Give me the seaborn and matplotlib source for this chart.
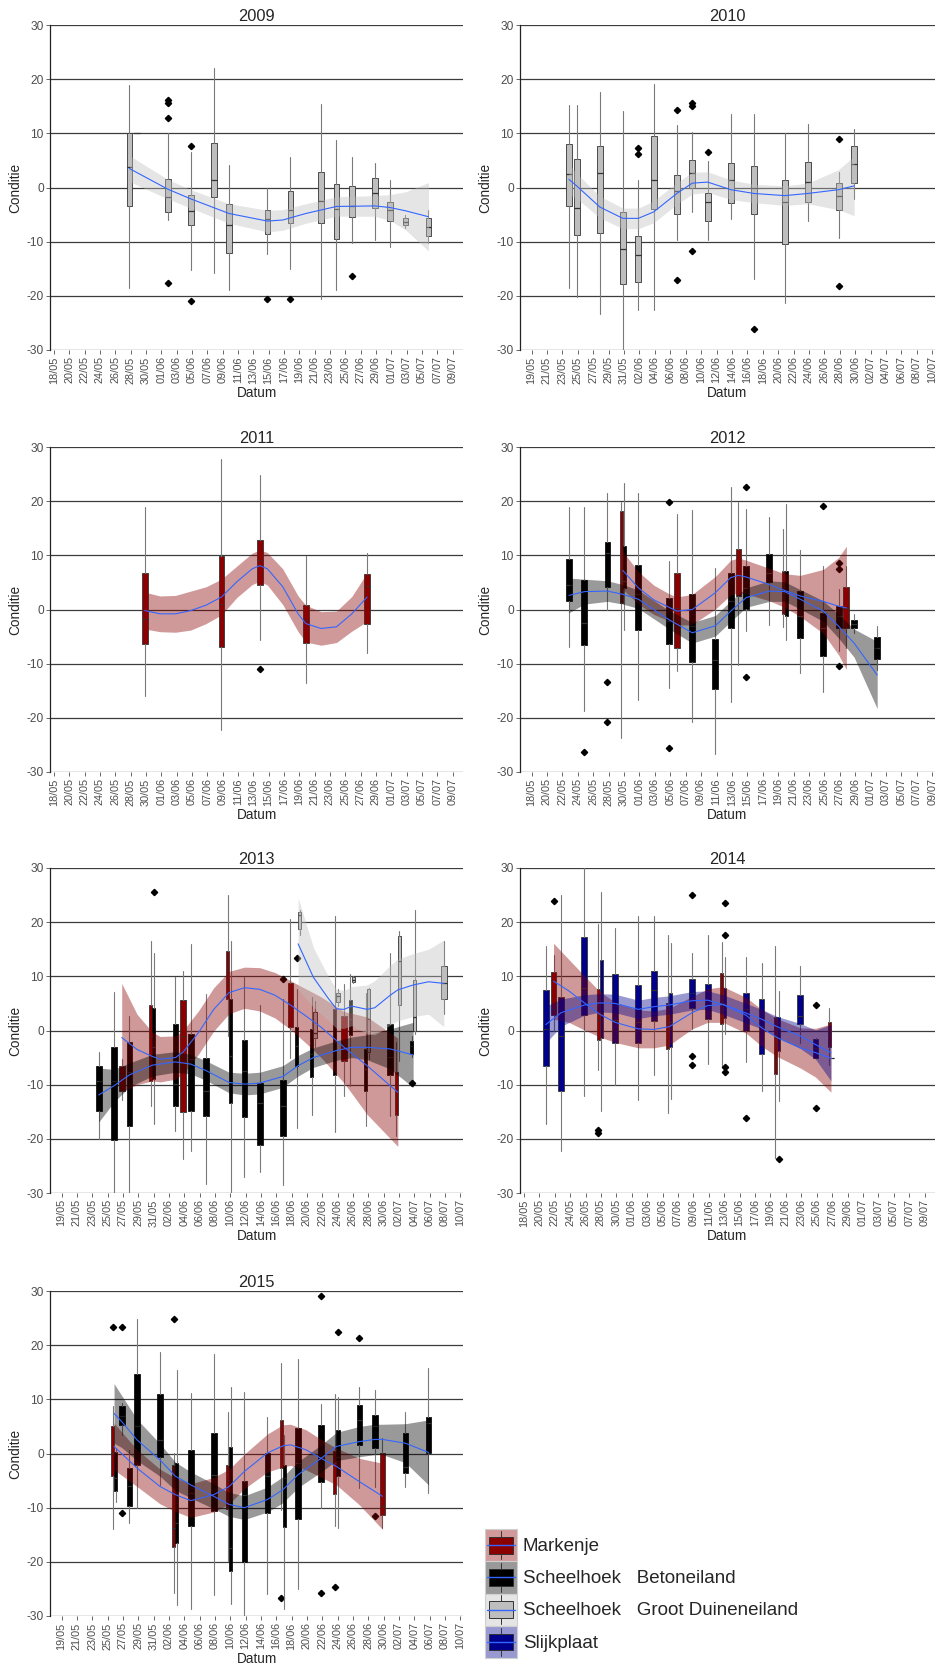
import datetime as dt
import matplotlib
matplotlib.use("Agg")
import matplotlib.pyplot as plt
import matplotlib.dates as mdates
from matplotlib.colors import to_rgb
from matplotlib.patches import Rectangle, Patch
from matplotlib.lines import Line2D
from matplotlib.legend_handler import HandlerBase
import numpy as np
import pandas as pd
import seaborn as sns

# ---------------------------------------------------------------- data
# colony codes
colony_codes = ["M", "B", "G", "S"]
colony_labels = ["Markenje", "Scheelhoek   Betoneiland",
                 "Scheelhoek   Groot Duineneiland", "Slijkplaat"]
colony_fill = ["#8B0000", "#000000", "#BEBEBE", "#00008B"]

years = [2009, 2010, 2011, 2012, 2013, 2014, 2015]
first_tick = ["18/05", "19/05", "18/05", "18/05", "19/05", "18/05", "19/05"]

# boxes: (date, colony, lower whisker, q1, median, q3, upper whisker, outliers)
box_2009 = [
    ("28/05", "G", -18.6, -3.5, 3.7, 10.0, 18.9, []),
    ("29/05", "G", 10.1, 10.1, 10.1, 10.1, 10.1, []),
    ("02/06", "G", -6.0, -4.6, -1.8, 1.6, 10.1, [16.2, 15.6, 12.9, -17.7]),
    ("05/06", "G", -15.2, -7.0, -4.3, -1.3, 6.6, [7.7, -21.0]),
    ("08/06", "G", -15.7, -1.7, 1.4, 8.2, 22.0, []),
    ("10/06", "G", -18.9, -12.0, -6.9, -3.1, 4.2, []),
    ("15/06", "G", -12.3, -8.6, -5.8, -4.2, 0.0, [-20.5]),
    ("18/06", "G", -15.1, -6.6, -4.2, -0.6, 5.7, [-20.5]),
    ("22/06", "G", -20.5, -6.5, -2.5, 2.8, 15.4, []),
    ("24/06", "G", -19.0, -9.5, -4.0, 0.6, 8.8, []),
    ("26/06", "G", -10.3, -5.5, -3.4, 0.2, 5.6, [-16.3]),
    ("29/06", "G", -9.6, -3.8, -1.0, 1.8, 4.5, []),
    ("01/07", "G", -10.9, -6.1, -4.2, -2.6, 1.4, []),
    ("03/07", "G", -7.5, -7.0, -6.3, -5.7, -5.1, []),
    ("06/07", "G", -10.3, -8.9, -7.2, -5.7, -4.2, []),
]
box_2010 = [
    ("24/05", "G", -18.6, -3.5, 2.5, 8.1, 15.3, []),
    ("25/05", "G", -20.2, -8.7, -3.8, 5.2, 15.3, []),
    ("28/05", "G", -23.4, -8.4, 2.7, 7.6, 17.7, []),
    ("31/05", "G", -30.0, -17.9, -11.3, -4.6, 14.2, []),
    ("02/06", "G", -22.6, -17.5, -12.5, -9.0, 1.3, [7.3, 6.2]),
    ("04/06", "G", -22.6, -3.9, 1.3, 9.6, 19.1, []),
    ("07/06", "G", -9.6, -4.8, -0.7, 2.4, 11.6, [14.3, -17.1]),
    ("09/06", "G", -4.5, -0.1, 2.7, 5.1, 10.2, [15.6, 15.0, -11.7]),
    ("11/06", "G", -9.6, -6.1, -2.7, -1.1, 4.9, [6.5]),
    ("14/06", "G", -5.8, -2.8, 1.3, 4.6, 13.6, []),
    ("17/06", "G", -16.8, -4.8, -0.1, 3.9, 13.6, [-26.2]),
    ("21/06", "G", -21.4, -10.5, -2.7, 1.4, 10.1, []),
    ("24/06", "G", -6.2, -2.6, 1.0, 4.7, 11.8, []),
    ("28/06", "G", -9.3, -4.2, -1.5, 0.8, 2.9, [8.9, -18.2]),
    ("30/06", "G", -2.2, 0.9, 4.3, 7.6, 10.8, []),
]
box_2011 = [
    ("30/05", "M", -16.0, -6.3, -1.8, 6.7, 19.0, []),
    ("09/06", "M", -22.3, -6.9, 1.0, 9.8, 27.8, []),
    ("14/06", "M", -5.7, 4.5, 9.1, 12.9, 24.8, [-10.9]),
    ("20/06", "M", -13.6, -6.2, -2.0, 0.8, 9.8, []),
    ("28/06", "M", -8.0, -2.6, 4.3, 6.5, 10.4, []),
]
box_2012 = [
    ("23/05", "B", -7.0, 1.5, 4.6, 9.3, 19.0, []),
    ("25/05", "B", -18.7, -6.5, -2.4, 5.4, 19.0, [-26.3]),
    ("28/05", "B", 0.0, 4.2, 10.4, 12.5, 21.5, [-13.4, -20.7]),
    ("30/05", "M", -23.8, 1.2, 5.3, 18.2, 19.8, []),
    ("30/05", "B", -3.7, 4.0, 5.3, 11.8, 23.4, []),
    ("01/06", "B", -16.7, -3.7, 2.8, 8.3, 21.5, []),
    ("05/06", "B", -14.5, -6.4, -2.2, 2.2, 8.9, [19.9, -25.5]),
    ("06/06", "M", -11.4, -7.1, 0.3, 6.8, 17.6, []),
    ("08/06", "B", -20.7, -9.6, -3.1, 2.8, 18.3, []),
    ("11/06", "B", -26.6, -14.7, -9.3, -5.4, 7.7, []),
    ("13/06", "B", -17.0, -3.5, 1.5, 6.8, 22.6, []),
    ("14/06", "M", -10.2, 2.5, 5.9, 11.1, 19.8, []),
    ("15/06", "B", -4.0, 0.1, 4.0, 8.1, 18.6, [22.7, -12.5]),
    ("18/06", "B", -2.8, 5.0, 6.8, 10.3, 17.0, []),
    ("20/06", "M", -3.3, -0.8, 3.4, 7.1, 14.8, []),
    ("20/06", "B", -5.6, -1.2, 2.8, 7.2, 19.4, []),
    ("22/06", "B", -11.7, -5.3, -1.2, 3.5, 11.0, []),
    ("25/06", "B", -15.3, -8.5, -3.4, -0.6, 8.0, [19.1]),
    ("27/06", "B", -7.6, -3.5, -1.2, 0.7, 3.8, [8.5, 7.4, -10.4]),
    ("28/06", "M", -7.1, -3.4, 0.3, 4.1, 8.0, []),
    ("29/06", "B", -4.3, -3.5, -2.7, -1.9, -0.9, []),
    ("02/07", "B", -11.1, -9.1, -7.1, -5.1, -3.1, []),
]
box_2013 = [
    ("24/05", "B", -20.1, -14.8, -9.3, -6.6, -3.9, []),
    ("26/05", "B", -30.0, -20.3, -9.3, -3.1, 7.2, []),
    ("27/05", "M", -12.9, -11.1, -8.3, -6.6, -5.2, []),
    ("28/05", "B", -30.0, -17.7, -7.7, -2.1, 2.6, []),
    ("31/05", "M", -14.0, -9.3, -1.0, 4.7, 16.5, []),
    ("31/05", "B", -17.2, -9.0, -3.1, 4.2, 14.4, [25.6]),
    ("03/06", "B", -18.5, -14.0, -9.9, 1.2, 9.8, []),
    ("04/06", "M", -23.7, -15.0, -1.0, 5.6, 11.0, []),
    ("05/06", "B", -22.3, -14.8, -5.3, -0.6, 15.9, []),
    ("07/06", "B", -28.3, -15.8, -11.1, -5.0, 6.7, []),
    ("10/06", "M", -1.0, 5.8, 8.8, 14.7, 25.1, []),
    ("10/06", "B", -30.0, -13.3, -4.7, 5.8, 16.5, []),
    ("12/06", "B", -27.1, -16.0, -7.4, -1.7, 9.8, []),
    ("14/06", "B", -26.1, -21.2, -13.3, -9.6, 4.8, []),
    ("17/06", "B", -28.6, -19.5, -13.9, -9.1, 5.8, [9.5]),
    ("18/06", "M", -5.0, 0.7, 5.2, 8.8, 20.5, []),
    ("19/06", "B", -18.0, -6.6, -2.8, 0.7, 7.7, [13.4]),
    ("19/06", "G", 17.7, 18.7, 21.4, 21.8, 22.3, []),
    ("21/06", "B", -15.6, -8.5, -4.4, 0.2, 6.1, []),
    ("21/06", "G", -3.0, -1.3, -0.5, 3.4, 5.5, []),
    ("24/06", "B", -18.8, -8.2, -2.2, 3.9, 21.1, []),
    ("24/06", "G", 4.5, 5.3, 6.3, 6.9, 7.7, []),
    ("25/06", "M", -12.0, -5.6, -2.5, 2.7, 8.5, []),
    ("26/06", "B", -10.2, -0.8, 2.1, 5.6, 10.4, []),
    ("26/06", "G", 8.7, 9.0, 9.4, 9.8, 10.1, []),
    ("28/06", "B", -17.7, -11.1, -7.1, -3.4, 7.0, []),
    ("28/06", "G", -5.3, -4.0, 2.1, 7.6, 7.9, []),
    ("01/07", "B", -15.7, -8.3, -4.9, 1.2, 14.4, []),
    ("02/07", "M", -19.4, -15.6, -12.0, -7.6, -2.2, []),
    ("02/07", "G", -5.6, 4.8, 12.8, 17.4, 18.3, []),
    ("04/07", "B", -4.8, -4.4, -2.8, -2.0, -1.0, [-9.6]),
    ("04/07", "G", -0.7, -0.1, 2.5, 9.3, 22.3, []),
    ("08/07", "G", 3.0, 5.8, 8.7, 11.9, 16.5, []),
]
box_2014 = [
    ("21/05", "S", -17.2, -6.6, 0.2, 7.4, 15.6, []),
    ("22/05", "M", 0.0, 2.8, 4.0, 10.8, 14.0, [24.0]),
    ("23/05", "S", -22.3, -11.1, -1.0, 6.1, 25.0, []),
    ("26/05", "S", -12.1, 2.9, 7.8, 17.2, 30.0, []),
    ("28/05", "M", -7.2, -1.8, 2.0, 7.7, 19.6, [-18.4, -19.0]),
    ("28/05", "S", -14.9, -1.4, 5.1, 13.0, 25.6, []),
    ("30/05", "S", -10.0, -2.3, 2.0, 10.5, 19.0, []),
    ("02/06", "S", -12.9, -2.3, 1.6, 8.4, 21.2, []),
    ("04/06", "S", -8.3, 1.8, 7.5, 11.0, 21.2, []),
    ("06/06", "M", -15.2, -3.5, 1.4, 5.1, 17.7, []),
    ("06/06", "S", -12.7, -3.1, 1.5, 7.0, 16.1, []),
    ("09/06", "S", 0.2, 4.1, 7.0, 9.6, 14.4, [25.1, -4.7, -6.3]),
    ("11/06", "S", -6.2, 2.2, 5.7, 8.6, 17.7, []),
    ("13/06", "M", -6.6, 1.2, 5.1, 10.7, 16.4, []),
    ("13/06", "S", -0.7, 2.3, 5.1, 7.8, 13.5, [23.6, 17.7, -6.7, -7.7]),
    ("16/06", "S", -5.8, -0.1, 3.9, 6.9, 13.5, [-16.1]),
    ("18/06", "S", -11.2, -4.4, 0.8, 5.9, 12.5, []),
    ("20/06", "M", -23.5, -8.1, -1.0, 2.5, 15.6, []),
    ("20/06", "S", -13.0, -3.8, 0.2, 2.5, 7.3, [-23.8]),
    ("23/06", "S", -2.3, 1.2, 2.6, 6.5, 12.0, []),
    ("25/06", "S", -5.0, -5.0, -3.2, -1.5, -1.3, [4.7, -14.3]),
    ("27/06", "M", -6.3, -3.0, -0.4, 1.6, 4.2, []),
    ("27/06", "S", -5.0, -5.0, -5.0, -5.0, -5.0, []),
]
box_2015 = [
    ("26/05", "M", -14.0, -4.1, 0.1, 5.0, 8.7, [23.3]),
    ("26/05", "B", -9.0, -6.9, -4.5, 0.3, 1.0, []),
    ("27/05", "B", 3.5, 5.2, 6.9, 8.7, 9.3, [23.3, -11.0]),
    ("28/05", "B", -12.9, -9.6, -6.0, -2.7, 0.7, []),
    ("29/05", "B", -10.1, -2.1, 5.0, 14.7, 24.9, []),
    ("01/06", "B", -5.9, -0.6, 2.5, 11.0, 18.8, []),
    ("03/06", "M", -25.7, -17.2, -13.7, -2.2, 0.1, [24.9]),
    ("03/06", "B", -27.9, -16.6, -12.8, -1.8, 15.4, []),
    ("05/06", "B", -28.7, -13.4, -7.3, 0.7, 11.1, []),
    ("08/06", "B", -26.2, -10.7, -3.9, 3.7, 18.3, []),
    ("10/06", "M", -19.9, -10.2, -4.8, -2.1, 7.7, []),
    ("10/06", "B", -27.7, -21.7, -17.5, 1.2, 12.3, []),
    ("12/06", "B", -30.0, -20.0, -7.6, -5.0, 11.4, []),
    ("15/06", "B", -26.0, -11.0, -4.2, 0.1, 6.8, []),
    ("17/06", "M", -10.4, -2.7, 2.5, 6.1, 16.8, [-26.6]),
    ("17/06", "B", -28.7, -13.6, -4.5, -2.1, 3.4, []),
    ("19/06", "B", -25.0, -12.0, -1.8, 4.7, 17.4, []),
    ("22/06", "B", -10.1, -5.3, -0.6, 5.2, 9.1, [29.1, -25.7]),
    ("24/06", "M", -13.3, -7.5, -1.8, 0.4, 10.9, [-24.6]),
    ("24/06", "B", -13.7, -4.2, -0.6, 4.4, 10.5, [22.5]),
    ("27/06", "B", -6.4, 1.5, 6.1, 9.0, 12.3, [21.3]),
    ("29/06", "B", -6.2, 1.0, 5.0, 7.1, 11.7, [-11.6]),
    ("30/06", "M", -13.7, -11.3, -9.6, 0.1, 2.8, []),
    ("03/07", "B", -6.2, -3.6, -2.4, 3.7, 7.7, []),
    ("06/07", "B", -7.3, 0.1, 5.7, 6.8, 15.7, []),
]

# smoothed trend per colony: dates, fitted value, half width of the band
sm2009_G_date = ["28/05", "02/06", "05/06", "10/06", "15/06", "17/06", "20/06", "24/06", "29/06", "01/07", "03/07", "06/07"]
sm2009_G_fit = [3.5, -0.3, -2.1, -4.8, -6.2, -6.0, -4.8, -3.5, -3.4, -3.7, -4.3, -5.4]
sm2009_G_hw = [2.4, 1.8, 1.7, 1.8, 2.0, 1.9, 1.8, 1.8, 1.9, 2.4, 3.5, 6.3]

sm2010_G_date = ["24/05", "25/05", "28/05", "31/05", "02/06", "04/06", "07/06", "09/06", "11/06", "14/06", "17/06", "21/06", "24/06", "28/06", "30/06"]
sm2010_G_fit = [1.5, 0.3, -3.6, -5.7, -5.7, -4.5, -1.1, 0.8, 1.0, -0.4, -1.1, -1.5, -1.1, -0.4, 0.3]
sm2010_G_hw = [2.8, 2.3, 2.0, 1.9, 1.9, 2.0, 2.0, 2.0, 1.9, 1.8, 1.7, 1.8, 1.9, 3.7, 5.5]

sm2011_M_date = ["30/05", "01/06", "03/06", "05/06", "07/06", "09/06", "11/06", "13/06", "14/06", "15/06", "17/06", "19/06", "20/06", "22/06", "24/06", "26/06", "28/06"]
sm2011_M_fit = [-0.2, -0.8, -0.8, -0.2, 0.8, 2.3, 5.1, 7.5, 8.1, 7.5, 4.2, -0.8, -2.6, -3.5, -3.2, -0.8, 2.3]
sm2011_M_hw = [3.4, 3.3, 3.4, 3.6, 3.4, 3.3, 2.9, 2.9, 2.9, 3.0, 3.3, 3.3, 3.4, 3.1, 2.9, 3.2, 4.5]

sm2012_B_date = ["23/05", "25/05", "28/05", "30/05", "01/06", "05/06", "08/06", "11/06", "13/06", "15/06", "18/06", "20/06", "22/06", "25/06", "27/06", "29/06", "02/07"]
sm2012_B_fit = [2.6, 3.3, 3.4, 2.8, 1.9, -1.9, -4.3, -3.0, -0.3, 2.2, 3.4, 3.3, 1.9, -0.3, -3.1, -6.2, -12.1]
sm2012_B_hw = [3.2, 2.3, 1.9, 1.8, 1.7, 1.7, 1.9, 1.9, 1.9, 1.8, 1.9, 1.8, 1.8, 1.9, 2.2, 2.6, 6.2]
sm2012_M_date = ["30/05", "01/06", "03/06", "05/06", "06/06", "08/06", "11/06", "13/06", "14/06", "15/06", "18/06", "20/06", "22/06", "25/06", "27/06", "28/06"]
sm2012_M_fit = [7.2, 4.0, 1.8, 0.4, -0.3, 0.0, 3.1, 5.9, 6.3, 6.0, 4.6, 3.5, 2.5, 1.5, 0.6, 0.3]
sm2012_M_hw = [3.5, 3.0, 2.7, 2.5, 2.6, 2.8, 3.0, 3.2, 3.2, 3.1, 3.0, 3.1, 3.8, 5.9, 9.0, 11.4]

sm2013_B_date = ["24/05", "26/05", "28/05", "31/05", "03/06", "05/06", "07/06", "10/06", "12/06", "14/06", "17/06", "19/06", "21/06", "24/06", "26/06", "28/06", "01/07", "04/07"]
sm2013_B_fit = [-11.9, -10.2, -8.2, -6.4, -5.8, -6.2, -7.4, -9.6, -9.9, -9.7, -8.5, -6.5, -5.0, -3.7, -3.1, -3.1, -3.4, -4.5]
sm2013_B_hw = [5.0, 3.0, 2.2, 2.0, 1.9, 1.8, 1.8, 1.9, 2.0, 2.0, 2.0, 1.9, 1.8, 1.8, 1.9, 2.3, 3.7, 6.0]
sm2013_M_date = ["27/05", "29/05", "31/05", "01/06", "03/06", "04/06", "06/06", "08/06", "10/06", "12/06", "14/06", "16/06", "18/06", "20/06", "22/06", "25/06", "28/06", "02/07"]
sm2013_M_fit = [-1.3, -3.5, -4.8, -5.3, -5.0, -4.0, -0.4, 3.9, 7.0, 7.9, 7.6, 6.5, 4.7, 2.7, 0.6, -3.1, -6.5, -11.4]
sm2013_M_hw = [10.0, 6.5, 4.5, 4.2, 4.0, 4.0, 4.0, 4.0, 3.9, 3.8, 4.0, 4.2, 4.5, 5.0, 5.6, 6.6, 9.0, 10.0]
sm2013_G_date = ["19/06", "21/06", "23/06", "24/06", "25/06", "26/06", "28/06", "29/06", "01/07", "02/07", "04/07", "06/07", "08/07"]
sm2013_G_fit = [16.0, 9.8, 5.8, 4.0, 3.9, 4.5, 3.9, 4.2, 6.5, 7.5, 8.4, 9.0, 8.7]
sm2013_G_hw = [8.5, 5.5, 4.0, 3.6, 3.5, 3.6, 4.5, 5.0, 5.5, 5.7, 5.8, 6.0, 8.0]

sm2014_M_date = ["22/05", "24/05", "26/05", "28/05", "30/05", "02/06", "04/06", "06/06", "09/06", "11/06", "13/06", "16/06", "18/06", "20/06", "23/06", "25/06", "27/06"]
sm2014_M_fit = [9.1, 7.3, 5.1, 3.0, 1.5, 0.3, 0.2, 0.7, 3.3, 4.6, 4.8, 2.8, 0.5, -1.3, -3.2, -4.1, -5.1]
sm2014_M_hw = [7.0, 5.8, 5.0, 4.2, 3.7, 3.5, 3.4, 3.4, 3.0, 3.1, 3.3, 3.3, 3.4, 3.5, 3.7, 4.5, 6.3]
sm2014_S_date = ["21/05", "23/05", "26/05", "28/05", "30/05", "02/06", "04/06", "06/06", "09/06", "11/06", "13/06", "16/06", "18/06", "20/06", "23/06", "25/06", "27/06"]
sm2014_S_fit = [1.1, 3.3, 4.7, 5.1, 5.0, 3.9, 4.4, 4.7, 5.5, 5.6, 4.8, 3.2, 2.1, 0.7, -1.0, -2.6, -4.1]
sm2014_S_hw = [3.4, 2.5, 1.9, 1.7, 1.7, 1.7, 1.7, 1.7, 1.7, 1.7, 1.8, 1.8, 1.8, 1.9, 2.3, 2.7, 5.2]

sm2015_B_date = ["26/05", "27/05", "29/05", "01/06", "03/06", "05/06", "08/06", "10/06", "12/06", "15/06", "17/06", "19/06", "22/06", "24/06", "27/06", "29/06", "30/06", "03/07", "06/07"]
sm2015_B_fit = [7.4, 5.9, 2.5, -1.2, -4.2, -5.8, -7.9, -9.4, -10.0, -8.5, -6.7, -3.9, -0.9, 1.3, 2.2, 2.6, 2.6, 1.9, 0.2]
sm2015_B_hw = [5.5, 4.8, 3.8, 3.0, 2.6, 2.4, 2.3, 2.2, 2.2, 2.3, 2.4, 2.4, 2.5, 2.6, 2.8, 2.8, 2.8, 3.6, 6.0]
sm2015_M_date = ["26/05", "29/05", "01/06", "03/06", "05/06", "08/06", "10/06", "12/06", "15/06", "17/06", "18/06", "20/06", "22/06", "24/06", "27/06", "30/06"]
sm2015_M_fit = [1.3, -2.7, -6.1, -7.6, -8.7, -7.6, -6.1, -3.3, 0.1, 1.4, 1.6, 0.7, -0.9, -2.4, -5.2, -7.9]
sm2015_M_hw = [4.3, 3.4, 3.2, 3.1, 3.1, 3.2, 3.2, 3.2, 3.5, 3.9, 3.8, 3.7, 3.5, 3.4, 4.3, 6.1]

BOXES = {2009: box_2009, 2010: box_2010, 2011: box_2011, 2012: box_2012,
         2013: box_2013, 2014: box_2014, 2015: box_2015}
SMOOTHS = {
    2009: {"G": (sm2009_G_date, sm2009_G_fit, sm2009_G_hw)},
    2010: {"G": (sm2010_G_date, sm2010_G_fit, sm2010_G_hw)},
    2011: {"M": (sm2011_M_date, sm2011_M_fit, sm2011_M_hw)},
    2012: {"M": (sm2012_M_date, sm2012_M_fit, sm2012_M_hw),
           "B": (sm2012_B_date, sm2012_B_fit, sm2012_B_hw)},
    2013: {"M": (sm2013_M_date, sm2013_M_fit, sm2013_M_hw),
           "B": (sm2013_B_date, sm2013_B_fit, sm2013_B_hw),
           "G": (sm2013_G_date, sm2013_G_fit, sm2013_G_hw)},
    2014: {"M": (sm2014_M_date, sm2014_M_fit, sm2014_M_hw),
           "S": (sm2014_S_date, sm2014_S_fit, sm2014_S_hw)},
    2015: {"M": (sm2015_M_date, sm2015_M_fit, sm2015_M_hw),
           "B": (sm2015_B_date, sm2015_B_fit, sm2015_B_hw)},
}

# ---------------------------------------------------------------- style
sns.set_theme(style="white")
plt.rcParams["font.family"] = ["Liberation Sans", "DejaVu Sans"]
plt.rcParams["axes.unicode_minus"] = False

FILL = dict(zip(colony_codes, colony_fill))
ALPHA = 0.4
LINE_BLUE = "#3366FF"
TICK_GREY = "#4D4D4D"
GRID = "#3C3C3C"
DAY_SHIFT = -0.15
START_OFFSET = {2009: 0.5, 2010: 1.5, 2011: 0.5, 2012: 1.5, 2013: 1.5, 2014: 0.5, 2015: 1.5}
SPAN = 53.85


def blend(c, a=ALPHA):
    r = np.array(to_rgb(c))
    return tuple(a * r + (1 - a) * 1.0)


def dnum(year, s):
    d, m = s.split("/")
    return mdates.date2num(dt.datetime(year, int(m), int(d)))


def draw_panel(ax, year, tick0):
    t0 = dnum(year, tick0)
    x0 = t0 - START_OFFSET[year]
    ax.set_xlim(x0, x0 + SPAN)
    ax.set_ylim(-30, 30)
    ax.set_yticks(range(-30, 31, 10))
    ax.set_xticks([t0 + 2 * i for i in range(27)])
    ax.xaxis.set_major_formatter(mdates.DateFormatter("%d/%m"))
    ax.yaxis.grid(True, color=GRID, lw=0.9)
    ax.xaxis.grid(False)
    ax.set_axisbelow(True)
    for s in ["top", "right", "bottom"]:
        ax.spines[s].set_visible(False)
    ax.spines["left"].set_color("#222222")
    ax.spines["left"].set_linewidth(0.9)
    ax.tick_params(axis="x", rotation=90, labelsize=7.8, labelcolor=TICK_GREY,
                   color="#666666", length=3, width=0.7, bottom=True, pad=1.5)
    ax.tick_params(axis="y", labelsize=8.6, labelcolor=TICK_GREY,
                   color="#666666", length=3, width=0.7, left=True, pad=1.5)
    ax.set_title(str(year), fontsize=11.8, pad=3)
    ax.set_ylabel("Conditie", fontsize=9.8, labelpad=3)
    ax.set_xlabel("Datum", fontsize=9.8, labelpad=2)

    # --- boxes
    df = pd.DataFrame(BOXES[year], columns=["date", "col", "wl", "q1", "med", "q3", "wh", "fl"])
    df["x"] = [dnum(year, d) + DAY_SHIFT for d in df["date"]]
    df["order"] = [colony_codes.index(c) for c in df["col"]]
    df = df.sort_values(["x", "order"]).reset_index(drop=True)
    n_at = df.groupby("x")["col"].transform("count")
    rank = df.groupby("x").cumcount()
    width = np.where(n_at > 1, 0.8 / n_at, 0.75)
    pos = df["x"] + np.where(n_at > 1, (rank - (n_at - 1) / 2) * (0.8 / n_at), 0.0)
    stats = [dict(whislo=r.wl, q1=r.q1, med=r.med, q3=r.q3, whishi=r.wh, fliers=r.fl)
             for r in df.itertuples()]
    art = ax.bxp(stats, positions=list(pos), widths=list(width), patch_artist=True,
                 showcaps=False, manage_ticks=False,
                 boxprops=dict(edgecolor="#333333", linewidth=0.6),
                 whiskerprops=dict(color="#7A7A7A", linewidth=0.8),
                 medianprops=dict(color="#333333", linewidth=0.9),
                 flierprops=dict(marker="D", markersize=3.2, markerfacecolor="black",
                                 markeredgecolor="black", linestyle="none"))
    for patch, c in zip(art["boxes"], df["col"]):
        patch.set_facecolor(FILL[c])
        if c == "B":
            patch.set_edgecolor("#111111")

    # --- smooth trends with confidence bands
    for c in colony_codes:
        if c not in SMOOTHS[year]:
            continue
        dates, fit, hw = SMOOTHS[year][c]
        xs = np.array([dnum(year, d) + DAY_SHIFT for d in dates])
        fit = np.array(fit)
        hw = np.array(hw)
        ax.fill_between(xs, fit - hw, fit + hw, color=FILL[c], alpha=ALPHA, lw=0, zorder=3)
        sns.lineplot(x=xs, y=fit, ax=ax, color=LINE_BLUE, lw=0.8, zorder=4,
                     estimator=None, sort=False)


fig = plt.figure(figsize=(9.4, 16.72), dpi=100)
W, H = 940.0, 1672.0
col_left = [50, 520]
col_width = [413, 415]
row_top = [25, 447, 868, 1291]
ax_h = 325

for i, (yr, t0) in enumerate(zip(years, first_tick)):
    r, c = divmod(i, 2)
    rect = [col_left[c] / W, 1 - (row_top[r] + ax_h) / H, col_width[c] / W, ax_h / H]
    ax = fig.add_axes(rect)
    draw_panel(ax, yr, t0)


# ---------------------------------------------------------------- legend
class KeyHandler(HandlerBase):
    def __init__(self, fill):
        super().__init__()
        self.fill = fill

    def create_artists(self, legend, orig_handle, xdescent, ydescent, width, height, fontsize, trans):
        x0, y0 = -xdescent, -ydescent
        bg = Rectangle((x0, y0), width, height, facecolor=blend(self.fill),
                       edgecolor="#D0D0D0", lw=0.8, transform=trans)
        wh = Line2D([x0 + width / 2] * 2, [y0 + 0.06 * height, y0 + 0.94 * height],
                    color="#333333", lw=0.7, transform=trans)
        bx = Rectangle((x0 + 0.12 * width, y0 + 0.24 * height), 0.76 * width, 0.52 * height,
                       facecolor=self.fill, edgecolor="#333333", lw=0.7, transform=trans)
        md = Line2D([x0 + 0.06 * width, x0 + 0.94 * width], [y0 + height / 2] * 2,
                    color=LINE_BLUE, lw=1.0, transform=trans)
        return [bg, wh, bx, md]


handles = [Patch(facecolor=f) for f in colony_fill]
hmap = {h: KeyHandler(f) for h, f in zip(handles, colony_fill)}
fig.legend(handles, colony_labels, handler_map=hmap, loc="upper left",
           bbox_to_anchor=(485 / W, 1 - 1529 / H), frameon=False, fontsize=13.5,
           borderpad=0, borderaxespad=0, handlelength=1.72, handleheight=2.27,
           handletextpad=0.3, labelspacing=0.0)

fig.savefig("out.png", dpi=100)
